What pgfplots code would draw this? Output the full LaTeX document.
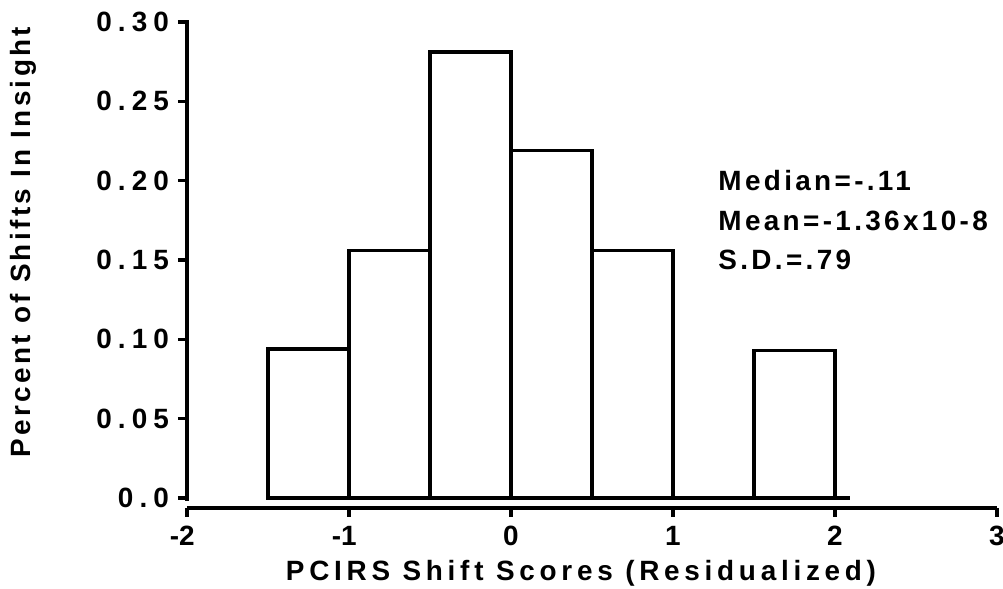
\documentclass[border=0pt]{standalone}
\usepackage{fontspec}
\setmainfont{Liberation Sans}[LetterSpace=12]
\usepackage{pgfplots}
\pgfplotsset{compat=1.18}
\begin{document}
\begin{tikzpicture}
\begin{axis}[
  scale only axis,
  width=405bp, height=243bp,
  xmin=-2, xmax=3, ymin=-0.0063, ymax=0.30,
  axis lines=left,
  axis line style={-, line width=1.7bp},
  y axis line style={draw=none},
  tick align=outside,
  major tick length=4.5bp,
  tick style={line width=1.6bp, black},
  xtick={-2,-1,0,1,2,3},
  xticklabels={\llap{-}2,\llap{-}1,0,1,2,3},
  ytick={0,0.05,0.10,0.15,0.20,0.25,0.30},
  yticklabels={0.0,0.05,0.10,0.15,0.20,0.25,0.30},
  tick label style={font=\fontsize{14}{16}\bfseries\addfontfeature{LetterSpace=22}},
  x tick label style={anchor=north, yshift=-2.5bp, inner sep=2bp},
  yticklabel shift=1bp,
  xlabel={PCIRS Shift Scores (Residualized)},
  ylabel={Percent of Shifts In Insight},
  xlabel style={font=\fontsize{14}{16}\bfseries\addfontfeature{LetterSpace=17}, at={(axis cs:0.432,-0.0473)}, anchor=center, inner sep=1bp},
  ylabel style={font=\fontsize{14}{16}\bfseries, at={(axis cs:-3.012,0.1613)}, anchor=center, rotate=0},
  clip=false,
]
\draw[line width=1.7bp, line cap=rect] (axis cs:-2,-0.0008) -- (axis cs:-2,0.30);
\addplot[ybar interval, draw=black, fill=none, line width=1.7bp]
  coordinates {(-1.5,0.094) (-1.0,0.156) (-0.5,0.281) (0.0,0.219) (0.5,0.156) (1.0,0.0) (1.5,0.093) (2.0,0.093)};
\addplot[black, line width=1.7bp] coordinates {(-1.5,0) (2.09,0)};
\node[anchor=base west, inner sep=0pt, font=\fontsize{14}{16}\bfseries] at (axis cs:1.278,0.1941) {Median=-.11};
\node[anchor=base west, inner sep=0pt, font=\fontsize{14}{16}\bfseries] at (axis cs:1.278,0.1689) {Mean=-1.36x10-8};
\node[anchor=base west, inner sep=0pt, font=\fontsize{14}{16}\bfseries] at (axis cs:1.278,0.1437) {S.D.=.79};
\coordinate (O) at (axis cs:-2,0);
\end{axis}
\pgfresetboundingbox
\path[use as bounding box] ([shift={(-93.5bp,-45.5bp)}]O) rectangle ([shift={(408bp,249bp)}]O);
\end{tikzpicture}
\end{document}
